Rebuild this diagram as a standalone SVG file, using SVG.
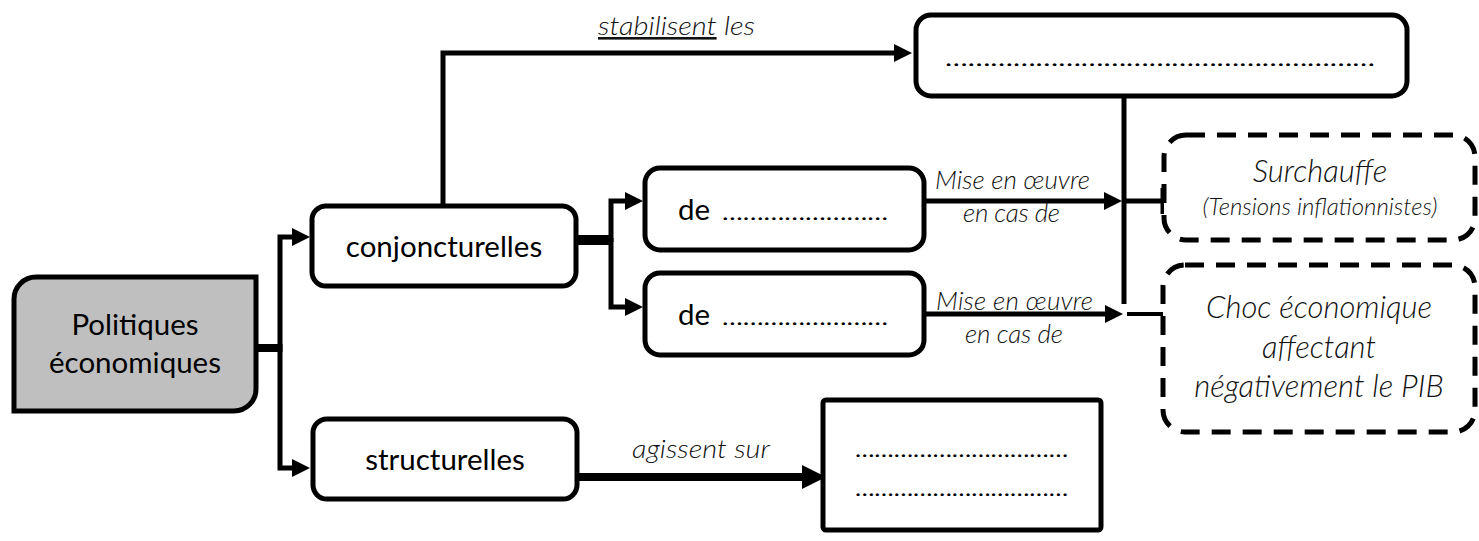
<svg xmlns="http://www.w3.org/2000/svg" width="1479" height="541" viewBox="0 0 1479 541">
<style>
.box{fill:#fff;stroke:#000;stroke-width:5}
.gray{fill:#bfbfbf;stroke:#000;stroke-width:5}
.dash{fill:#fff;stroke:#000;stroke-width:5;stroke-dasharray:19 12}
.ln{fill:none;stroke:#000;stroke-width:5;stroke-linejoin:miter}
.node{font-family:Lato,"Liberation Sans",sans-serif;font-size:29.5px;fill:#000}
.lbl{font-family:Lato,"Liberation Sans",sans-serif;font-style:italic;font-weight:300;font-size:26px;fill:#111}
.big{font-family:Lato,"Liberation Sans",sans-serif;font-style:italic;font-weight:300;font-size:31px;fill:#111}
.small{font-family:Lato,"Liberation Sans",sans-serif;font-style:italic;font-weight:300;font-size:24px;fill:#111}
.dots{font-family:Lato,"Liberation Sans",sans-serif;font-size:22px;fill:#000}
</style>
<defs>
<marker id="arr" markerUnits="userSpaceOnUse" markerWidth="18" markerHeight="18" refX="8" refY="9" orient="auto">
<path d="M0,0 L18,9 L0,18 Z" fill="#000"/>
</marker>
<marker id="arrBig" markerUnits="userSpaceOnUse" markerWidth="24" markerHeight="24" refX="10" refY="12" orient="auto">
<path d="M0,0 L24,12 L0,24 Z" fill="#000"/>
</marker>
</defs>

<g id="connectors">
<path class="ln" d="M248,348 H282" style="stroke-width:8"/>
<path class="ln" d="M280,352 V237 H300" marker-end="url(#arr)"/>
<path class="ln" d="M280,344 V468 H300" marker-end="url(#arr)"/>
<path class="ln" d="M443,206 V53 H902" marker-end="url(#arr)"/>
<path class="ln" d="M576,240 H613" style="stroke-width:10"/>
<path class="ln" d="M611,242 V201 H633" marker-end="url(#arr)"/>
<path class="ln" d="M611,238 V307 H633" marker-end="url(#arr)"/>
<path class="ln" d="M926,201 H1112" marker-end="url(#arr)"/>
<path class="ln" d="M926,314 H1113" marker-end="url(#arr)"/>
<path class="ln" d="M1124,97 V304"/>
<path class="ln" d="M1124,201 H1162"/>
<path class="ln" d="M1163,188 V214"/>
<path class="ln" d="M1127,314 H1163" style="stroke-width:4"/>
<path class="ln" d="M577,477 H812" style="stroke-width:8" marker-end="url(#arrBig)"/>
</g>

<g id="politiques">
<path class="gray" d="M36,277 H256 V389 A22,22 0 0 1 234,411 H14 V299 A22,22 0 0 1 36,277 Z"/>
<text class="node" x="135" y="335" text-anchor="middle">Politiques</text>
<text class="node" x="135" y="373" text-anchor="middle">économiques</text>
</g>

<g id="conjoncturelles">
<rect class="box" x="312" y="206" width="264" height="80" rx="14"/>
<text class="node" x="444" y="257" text-anchor="middle">conjoncturelles</text>
</g>

<g id="structurelles">
<rect class="box" x="313" y="419" width="264" height="80" rx="14"/>
<text class="node" x="445" y="470" text-anchor="middle">structurelles</text>
</g>

<g id="de1">
<rect class="box" x="645" y="168" width="279" height="82" rx="15"/>
<text class="node" x="678" y="220">de <tspan class="dots" x="722" textLength="166" lengthAdjust="spacingAndGlyphs">……………………</tspan></text>
</g>

<g id="de2">
<rect class="box" x="645" y="273" width="279" height="82" rx="15"/>
<text class="node" x="678" y="325">de <tspan class="dots" x="722" textLength="166" lengthAdjust="spacingAndGlyphs">……………………</tspan></text>
</g>

<g id="top-box">
<rect class="box" x="916" y="15" width="491" height="81" rx="15"/>
<text class="dots" x="945" y="66" textLength="430" lengthAdjust="spacingAndGlyphs">…………………………………………………</text>
</g>

<g id="surchauffe">
<rect class="dash" x="1164" y="135" width="311" height="105" rx="22"/>
<text class="big" x="1320" y="182" text-anchor="middle">Surchauffe</text>
<text class="small" x="1320" y="215" text-anchor="middle">(Tensions inflationnistes)</text>
</g>

<g id="choc">
<rect class="dash" x="1163" y="265" width="312" height="167" rx="22"/>
<text class="big" x="1319" y="318" text-anchor="middle">Choc économique</text>
<text class="big" x="1319" y="358" text-anchor="middle">affectant</text>
<text class="big" x="1319" y="397" text-anchor="middle">négativement le PIB</text>
</g>

<g id="structure-box">
<rect class="box" x="823" y="400" width="278" height="130" rx="3"/>
<text class="dots" x="855" y="457" textLength="213" lengthAdjust="spacingAndGlyphs">……………………………</text>
<text class="dots" x="855" y="496" textLength="213" lengthAdjust="spacingAndGlyphs">……………………………</text>
</g>

<g id="labels">
<text class="lbl" x="598" y="35" textLength="157" lengthAdjust="spacingAndGlyphs"><tspan text-decoration="underline">stabilisent</tspan> les</text>
<text class="lbl" x="935" y="189" textLength="155">Mise en œuvre</text>
<text class="lbl" x="963" y="222" textLength="97">en cas de</text>
<text class="lbl" x="936" y="310" textLength="157">Mise en œuvre</text>
<text class="lbl" x="965" y="343" textLength="98">en cas de</text>
<text class="lbl" x="632" y="458" textLength="138" lengthAdjust="spacingAndGlyphs">agissent sur</text>
</g>
</svg>
